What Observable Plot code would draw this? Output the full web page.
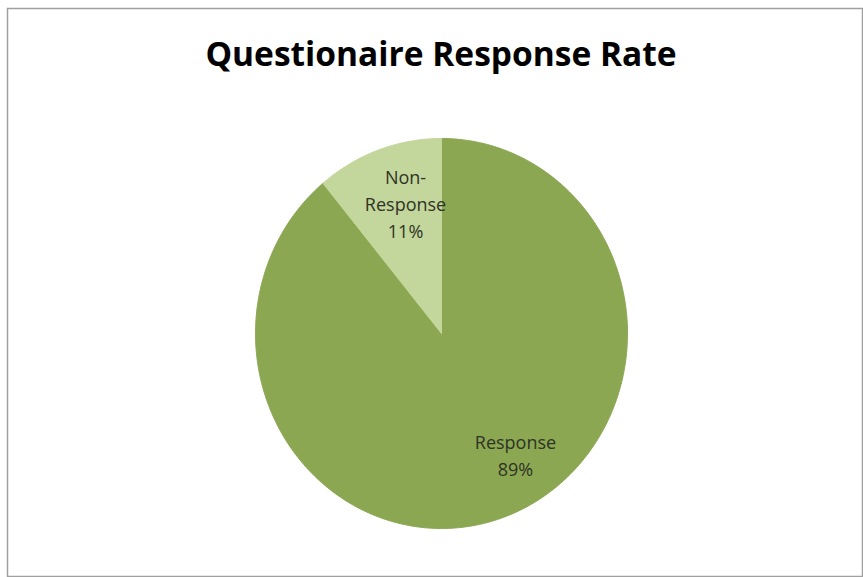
<!DOCTYPE html>
<html>
<head>
<meta charset="utf-8">
<script src="https://cdn.jsdelivr.net/npm/d3@7"></script>
<script src="https://cdn.jsdelivr.net/npm/@observablehq/plot@0.6"></script>
<style>
  html, body { margin: 0; padding: 0; background: #fff; }
  #chart svg { display: block; }
</style>
</head>
<body>
<div id="chart"></div>
<script>
// ---- data ----
const categories = ["Response", "Non-Response"];
const values = [89, 11];
const labelTexts = ["Response\n89%", "Non-\nResponse\n11%"];
const colors = ["#8BA752", "#C3D69B"];
const title = "Questionaire Response Rate";

// ---- build pie geometry from data ----
const W = 863, H = 577;
const pie = d3.pie().sort(null).value(d => d.value)(
  categories.map((c, i) => ({category: c, value: values[i], label: labelTexts[i], color: colors[i]}))
);

function slicePolygon(arc) {
  const pts = [{x: 0, y: 0}];
  const n = Math.max(2, Math.ceil((arc.endAngle - arc.startAngle) / 0.01));
  for (let k = 0; k <= n; k++) {
    const a = arc.startAngle + (arc.endAngle - arc.startAngle) * k / n;
    pts.push({x: Math.sin(a), y: Math.cos(a)});
  }
  pts.push({x: 0, y: 0});
  return pts;
}

function labelPoint(arc, r) {
  const mid = (arc.startAngle + arc.endAngle) / 2;
  return {x: Math.sin(mid) * r, y: Math.cos(mid) * r, text: arc.data.label};
}

// pixel layout: centre (441, 333), radii 186 x 195
const RX = 186, RY = 195, cx = 441, cy = 333;
const xDomain = [-cx / RX, (W - cx) / RX];
const yDomain = [-(H - cy) / RY, cy / RY];

const labelStyle = {x: "x", y: "y", text: "text", fontSize: 18, lineHeight: 1.5,
  fill: "#2f3326", fontFamily: "Open Sans, Lato, sans-serif"};

const marks = [
  Plot.frame({insetLeft: 7, insetTop: 8, insetRight: 1, insetBottom: 1, stroke: "#a0a0a0", strokeWidth: 1.5})
];
pie.forEach(arc => {
  marks.push(Plot.line(slicePolygon(arc), {x: "x", y: "y", fill: arc.data.color, stroke: arc.data.color, strokeWidth: 1, curve: "linear"}));
});
marks.push(Plot.text([labelPoint(pie[0], 0.65)], {...labelStyle, dx: 33, dy: 1}));
marks.push(Plot.text([labelPoint(pie[1], 0.65)], {...labelStyle, dx: 5, dy: -12}));
marks.push(Plot.text([title], {
  frameAnchor: "top", dx: 9, dy: 42, text: d => d,
  fontSize: 33.5, fontWeight: "bold", fill: "#000", fontFamily: "Open Sans, Lato, sans-serif"
}));

const chart = Plot.plot({
  width: W, height: H,
  margin: 0,
  x: {domain: xDomain, axis: null},
  y: {domain: yDomain, axis: null},
  style: {background: "#fff"},
  marks
});
document.getElementById("chart").append(chart);
</script>
</body>
</html>
